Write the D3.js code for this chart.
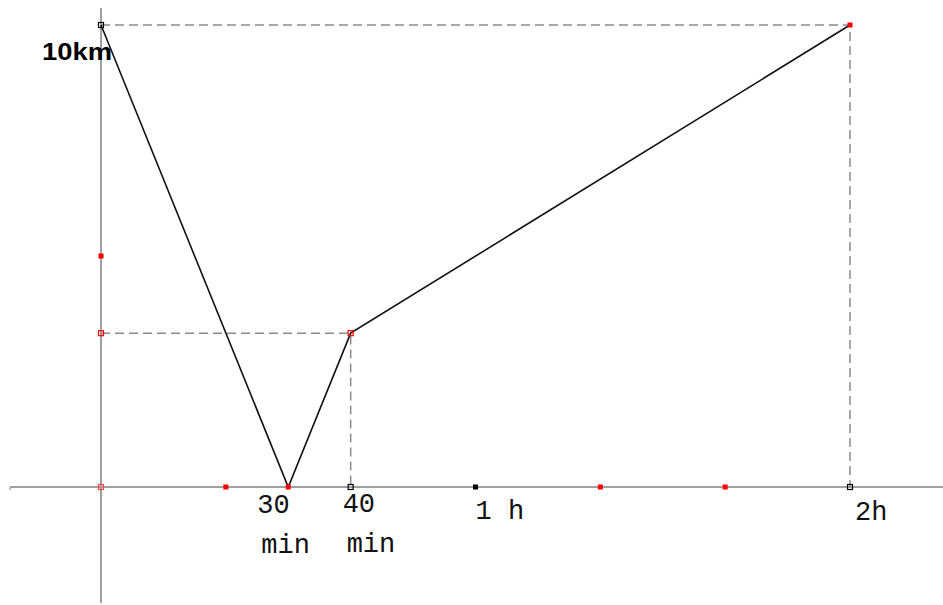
<!DOCTYPE html>
<html>
<head>
<meta charset="utf-8">
<script src="https://cdn.jsdelivr.net/npm/d3@7"></script>
<style>
  body { margin: 0; background: #fff; }
  svg { display: block; }
</style>
</head>
<body>
<div id="chart"></div>
<script>
// data
const pathMinutes = [0, 30, 40, 120];
const pathKm = [10, 0, 3.33, 10];

const redDotsX = [20, 80, 100];
const blackDotsX = [60];
const openDotsX = [40, 120];
const redDotsY = [5];
const openRedY = [3.33];

const tickValues = [30, 40, 60, 120];
const tickLabels = [["30", "min"], ["40", "min"], ["1 h"], ["2h"]];
const yLabel = "10km";

//setup
const width = 943, height = 605;
const svg = d3.select("#chart").append("svg")
    .attr("width", width)
    .attr("height", height);

const x = d3.scaleLinear().domain([0, 120]).range([101, 850]);
const y = d3.scaleLinear().domain([0, 10]).range([487, 25]);

const data = pathMinutes.map((m, i) => ({ t: m, km: pathKm[i] }));

// axes
svg.append("line")
    .attr("x1", 10).attr("x2", width)
    .attr("y1", y(0)).attr("y2", y(0))
    .attr("stroke", "#a0a0a0").attr("stroke-width", 2);
svg.append("line")
    .attr("x1", 10).attr("x2", 10)
    .attr("y1", y(0)).attr("y2", y(0) + 3)
    .attr("stroke", "#a0a0a0").attr("stroke-width", 1.5);
svg.append("line")
    .attr("x1", x(0)).attr("x2", x(0))
    .attr("y1", 8).attr("y2", 603)
    .attr("stroke", "#a0a0a0").attr("stroke-width", 2);

// dashed guides
const guides = [
    [data[0], data[3], { t: data[3].t, km: 0 }],
    [{ t: 0, km: data[2].km }, data[2], { t: data[2].t, km: 0 }]
];
svg.selectAll(".guide")
    .data(guides)
    .enter()
    .append("path")
    .attr("class", "guide")
    .attr("d", d3.line().x(d => x(d.t)).y(d => y(d.km)))
    .attr("fill", "none")
    .attr("stroke", "#8c8c8c")
    .attr("stroke-width", 1.5)
    .attr("stroke-dasharray", "9,5");

// path
svg.append("path")
    .datum(data)
    .attr("d", d3.line().x(d => x(d.t)).y(d => y(d.km)))
    .attr("fill", "none")
    .attr("stroke", "#111")
    .attr("stroke-width", 1.6);

// markers
function square(cx, cy, fill, stroke) {
    svg.append("rect")
        .attr("x", cx - 2.5).attr("y", cy - 2.5)
        .attr("width", 5).attr("height", 5)
        .attr("fill", fill)
        .attr("stroke", stroke)
        .attr("stroke-width", fill === "none" ? 1.2 : 0);
}
redDotsX.forEach(v => square(x(v), y(0), "#f00", "none"));
blackDotsX.forEach(v => square(x(v), y(0), "#000", "none"));
openDotsX.forEach(v => square(x(v), y(0), "none", "#000"));
redDotsY.forEach(v => square(x(0), y(v), "#f00", "none"));
openRedY.forEach(v => square(x(0), y(v), "none", "#f00"));
square(x(0), y(0), "none", "#f44");
square(x(data[0].t), y(data[0].km), "none", "#000");
square(x(data[1].t), y(data[1].km), "#f00", "none");
square(x(data[2].t), y(data[2].km), "none", "#f00");
square(x(data[3].t), y(data[3].km), "#f00", "none");

// tick labels
const labelDx = [-31, -8, 0, 5];
const labelDy = [26, 25, 32, 33];
tickValues.forEach((v, i) => {
    const t = svg.append("text")
        .attr("x", x(v) + labelDx[i])
        .attr("y", y(0) + labelDy[i])
        .attr("font-family", "'Liberation Mono', 'Courier New', monospace")
        .attr("font-size", 27)
        .attr("fill", "#111");
    tickLabels[i].forEach((s, j) => {
        t.append("tspan")
            .attr("x", x(v) + labelDx[i] + (j ? 4 : 0))
            .attr("dy", j ? 40 : 0)
            .text(s);
    });
});

svg.append("text")
    .attr("x", 42)
    .attr("y", 60)
    .attr("font-family", "'Liberation Sans', Arial, sans-serif")
    .attr("font-weight", "bold")
    .attr("font-size", 24)
    .attr("textLength", 70)
    .attr("lengthAdjust", "spacingAndGlyphs")
    .attr("fill", "#000")
    .text(yLabel);
</script>
</body>
</html>
